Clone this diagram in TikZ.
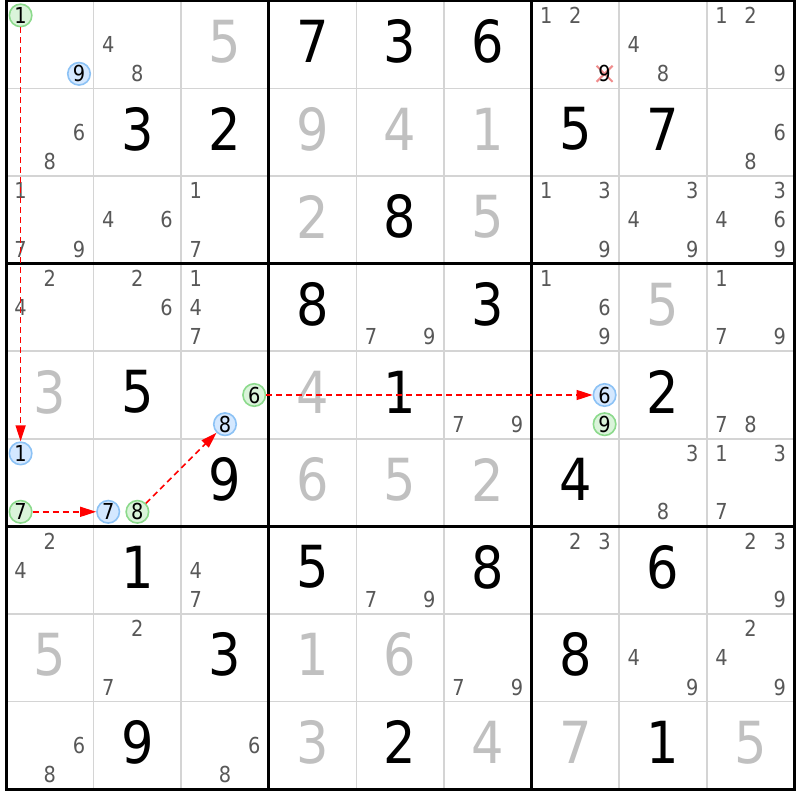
\documentclass[tikz,border=0pt]{standalone}
\usepackage{fontspec}
\setmainfont[FakeStretch=0.88]{DejaVu Sans}
\usetikzlibrary{arrows.meta}
\definecolor{candc}{RGB}{88,88,88}
\definecolor{solvc}{RGB}{192,192,192}
\definecolor{thinc}{RGB}{212,212,212}
\definecolor{ringG}{RGB}{140,218,140}
\definecolor{fillG}{RGB}{218,244,218}
\definecolor{ringB}{RGB}{140,194,245}
\definecolor{fillB}{RGB}{212,232,255}
\definecolor{xred}{RGB}{240,140,140}
\newcommand\cpx[2]{6+(#1-1)*87.6+(mod(#2-1,3)+0.5)*29.2}
\newcommand\cpy[2]{0.8+(#1-1)*87.6+(floor((#2-1)/3)+0.5)*29.2}
\newcommand\cnd[3]{\foreach \d in {#3}{\node[cand] (c-#1-#2-\d) at ({\cpx{#2}{\d}},{\cpy{#1}{\d}}) {\d};}}
\newcommand\gvn[3]{\node[big] (g-#1-#2) at ({6+(#2-0.5)*87.6},{0.8+(#1-0.5)*87.6-3}) {#3};}
\newcommand\slv[3]{\node[big,text=solvc] (s-#1-#2) at ({6+(#2-0.5)*87.6},{0.8+(#1-0.5)*87.6-3}) {#3};}
\newcommand\gc[4]{\node[gcirc] (#4) at ({\cpx{#2}{#3}},{\cpy{#1}{#3}}) {#3};}
\newcommand\bc[4]{\node[bcirc] (#4) at ({\cpx{#2}{#3}},{\cpy{#1}{#3}}) {#3};}
\begin{document}
\begin{tikzpicture}[x=1pt,y=-1pt,
  cand/.style={text=candc,font=\fontsize{22}{22}\selectfont,inner sep=0pt},
  big/.style={text=black,font=\fontsize{58}{58}\selectfont,inner sep=0pt},
  gcirc/.style={circle,draw=ringG,fill=fillG,line width=1.6pt,minimum size=22.5pt,inner sep=0pt,text=black,font=\fontsize{22}{22}\selectfont},
  bcirc/.style={circle,draw=ringB,fill=fillB,line width=1.6pt,minimum size=22.5pt,inner sep=0pt,text=black,font=\fontsize{22}{22}\selectfont},
  arr/.style={draw=red,line width=1.5pt,dash pattern=on 6pt off 4pt,-{Triangle[length=16pt,width=10pt,fill=red]}},
  thinl/.style={draw=thinc,line width=1.5pt},
  thickl/.style={draw=black,line width=3pt}]
\useasboundingbox[fill=white] (0,0) rectangle (800,800);
% grid
\foreach \i in {1,2,4,5,7,8}{
  \draw[thinl] ({6+\i*87.6},0.8) -- ({6+\i*87.6},789.2);
  \draw[thinl] (6,{0.8+\i*87.6}) -- (794,{0.8+\i*87.6});
}
\foreach \i in {3,6}{
  \draw[thickl] ({6+\i*87.6},0.8) -- ({6+\i*87.6},789.2);
  \draw[thickl] (6,{0.8+\i*87.6}) -- (794,{0.8+\i*87.6});
}
\draw[thickl] (6,0.8) rectangle (794,789.2);
% givens
\gvn{1}{4}{7}\gvn{1}{5}{3}\gvn{1}{6}{6}
\gvn{2}{2}{3}\gvn{2}{3}{2}\gvn{2}{7}{5}\gvn{2}{8}{7}
\gvn{3}{5}{8}
\gvn{4}{4}{8}\gvn{4}{6}{3}
\gvn{5}{2}{5}\gvn{5}{5}{1}\gvn{5}{8}{2}
\gvn{6}{3}{9}\gvn{6}{7}{4}
\gvn{7}{2}{1}\gvn{7}{4}{5}\gvn{7}{6}{8}\gvn{7}{8}{6}
\gvn{8}{3}{3}\gvn{8}{7}{8}
\gvn{9}{2}{9}\gvn{9}{5}{2}\gvn{9}{8}{1}
% solved
\slv{1}{3}{5}
\slv{2}{4}{9}\slv{2}{5}{4}\slv{2}{6}{1}
\slv{3}{4}{2}\slv{3}{6}{5}
\slv{4}{8}{5}
\slv{5}{1}{3}\slv{5}{4}{4}
\slv{6}{4}{6}\slv{6}{5}{5}\slv{6}{6}{2}
\slv{8}{1}{5}\slv{8}{4}{1}\slv{8}{5}{6}
\slv{9}{4}{3}\slv{9}{6}{4}\slv{9}{7}{7}\slv{9}{9}{5}
% candidates
\cnd{1}{2}{4,8}\cnd{1}{7}{1,2}\cnd{1}{8}{4,8}\cnd{1}{9}{1,2,9}
\cnd{2}{1}{6,8}\cnd{2}{9}{6,8}
\cnd{3}{1}{1,7,9}\cnd{3}{2}{4,6}\cnd{3}{3}{1,7}\cnd{3}{7}{1,3,9}\cnd{3}{8}{3,4,9}\cnd{3}{9}{3,4,6,9}
\cnd{4}{1}{2,4}\cnd{4}{2}{2,6}\cnd{4}{3}{1,4,7}\cnd{4}{5}{7,9}\cnd{4}{7}{1,6,9}\cnd{4}{9}{1,7,9}
\cnd{5}{6}{7,9}\cnd{5}{9}{7,8}
\cnd{6}{8}{3,8}\cnd{6}{9}{1,3,7}
\cnd{7}{1}{2,4}\cnd{7}{3}{4,7}\cnd{7}{5}{7,9}\cnd{7}{7}{2,3}\cnd{7}{9}{2,3,9}
\cnd{8}{2}{2,7}\cnd{8}{6}{7,9}\cnd{8}{8}{4,9}\cnd{8}{9}{2,4,9}
\cnd{9}{1}{6,8}\cnd{9}{3}{6,8}
% eliminated candidate
\coordinate (xc) at ({\cpx{7}{9}},{\cpy{1}{9}});
\draw[xred,line width=2pt] ([shift={(-8,-8)}]xc) -- ([shift={(8,8)}]xc);
\draw[xred,line width=2pt] ([shift={(-8,8)}]xc) -- ([shift={(8,-8)}]xc);
\node[text=black,font=\fontsize{22}{22}\selectfont,inner sep=0pt] (elim9) at (xc) {9};
% circled candidates
\gc{1}{1}{1}{a1}\bc{1}{1}{9}{a9}
\gc{5}{3}{6}{e6}\bc{5}{3}{8}{e8}
\bc{5}{7}{6}{f6}\gc{5}{7}{9}{f9}
\bc{6}{1}{1}{h1}\gc{6}{1}{7}{h7}
\bc{6}{2}{7}{k7}\gc{6}{2}{8}{k8}
% chain arrows
\draw[arr] (a1) -- (h1);
\draw[arr] (h7) -- (k7);
\draw[arr] (k8) -- (e8);
\draw[arr] (e6) -- (f6);
\end{tikzpicture}
\end{document}
